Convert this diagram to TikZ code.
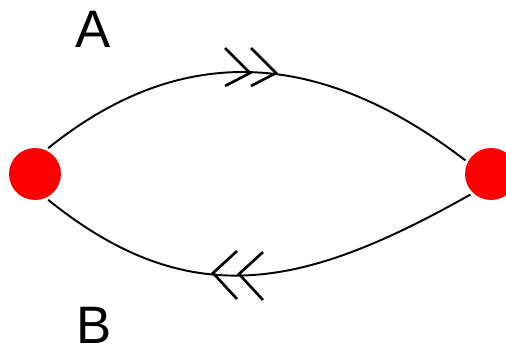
\documentclass[tikz,border=0pt]{standalone}
\usepackage{fontspec}
\setmainfont{Liberation Sans}
\usetikzlibrary{positioning}

\begin{document}
\begin{tikzpicture}[x=0.02cm, y=-0.02cm]
        % styles for the two states, the orbits and the double chevrons
        \tikzstyle{dot} = [circle, fill=red, minimum size=1.04cm, inner sep=0pt, outer sep=0.06cm]
        \tikzstyle{orbit} = [line width=1.1pt]
        \tikzstyle{chevron} = [line width=1.5pt]
        \tikzstyle{letter} = [font=\fontsize{30}{36}\selectfont, inner sep=0pt]

        \useasboundingbox (0,0) rectangle (506,347);
        \clip (0,0) rectangle (506,347);

        % states
        \node (left) [dot] at (35,174) {};
        \node (right) [dot] at (491,174) {};

        % orbits between the states
        \draw [orbit] (left.63) .. controls (185,38) and (324,52) .. (right.152);
        \draw [orbit] (left.-63) .. controls (192,316) and (308,286) .. (right.-135);

        % chevron tips
        \coordinate (ta) at (250,73);
        \coordinate (tb) at (276,73);
        \coordinate (ba) at (213,273);
        \coordinate (bb) at (239,274);
        \foreach \t in {ta,tb}
            \draw [chevron] (\t) ++(-25,-25) -- (\t) -- ++(-25,13);
        \foreach \t in {ba,bb}
            \draw [chevron] (\t) ++(24,-22) -- (\t) -- ++(24,26);

        % labels
        \node (A) [letter, anchor=base] at (93.5,48) {A};
        \node (B) [letter, anchor=base] at (94.5,343) {B};

    \end{tikzpicture}
\end{document}
